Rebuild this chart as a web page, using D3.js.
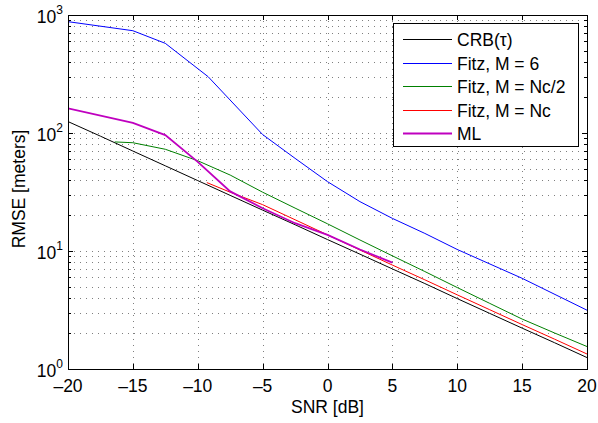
<!DOCTYPE html>
<html>
<head>
<meta charset="utf-8">
<script src="https://cdn.jsdelivr.net/npm/d3@7"></script>
<style>
  body { margin: 0; background: #fff; }
  text { font-family: "Liberation Sans", Arial, sans-serif; fill: #000; }
</style>
</head>
<body>
<script>
// series data (SNR in dB, RMSE in meters)
const crbSnr = [-20, -17.5, -15, -12.5, -10, -7.5, -5, -2.5, 0, 2.5, 5, 7.5, 10, 12.5, 15, 17.5, 20];
const crbVal = [125, 94, 70.3, 52.7, 39.5, 29.6, 22.2, 16.7, 12.5, 9.4, 7.05, 5.3, 3.95, 2.96, 2.22, 1.67, 1.25];

const fitz6Snr = [-20, -15, -12.5, -9.2, -5, -2.5, 0, 2.5, 5, 7.5, 10, 15, 20];
const fitz6Val = [878, 736, 575, 300, 97, 61, 38.7, 26.2, 18.9, 14.1, 10.3, 5.87, 3.15];

const fitzHalfSnr = [-16.4, -15, -12.5, -10, -7.5, -5, -2.5, 0, 2.5, 5, 7.5, 10, 12.5, 15, 17.5, 20];
const fitzHalfVal = [84, 82.7, 72.8, 58.2, 44, 31.5, 23.1, 17.0, 12.4, 9.1, 6.7, 4.9, 3.6, 2.65, 2.02, 1.55];

const fitzNcSnr = [-9.3, -7.5, -5, -2.5, 0, 2.5, 5, 7.5, 10, 12.5, 15, 17.5, 20];
const fitzNcVal = [38, 31.5, 24.7, 18.4, 13.7, 10.2, 7.6, 5.7, 4.25, 3.18, 2.38, 1.79, 1.34];

const mlSnr = [-20, -15, -12.5, -10, -7.5, -5, -2.5, 0, 2.5, 5];
const mlVal = [162, 122, 96, 57, 32, 23, 17.2, 13.7, 10.3, 7.96];

const xTicks = [-20, -15, -10, -5, 0, 5, 10, 15, 20];
const yExps = [0, 1, 2, 3];
const legendNames = ["CRB(\u03c4)", "Fitz, M = 6", "Fitz, M = Nc/2", "Fitz, M = Nc", "ML"];

const W = 598, H = 423;
const m = { left: 68, top: 15, right: 11, bottom: 54 };
const pw = W - m.left - m.right, ph = H - m.top - m.bottom;

const svg = d3.select("body").append("svg")
  .attr("width", W).attr("height", H);

const x = d3.scaleLinear().domain([-20, 20]).range([0, pw]);
const y = d3.scaleLog().domain([1, 1000]).range([ph, 0]);

const g = svg.append("g").attr("transform", `translate(${m.left},${m.top})`);

// grid
const minorY = [];
for (let e = 0; e < 3; e++) for (let k = 1; k < 10; k++) minorY.push(k * Math.pow(10, e));
minorY.push(1000);

const grid = g.append("g").attr("stroke", "#000").attr("stroke-opacity", 0.5)
  .attr("stroke-dasharray", "1,5").attr("stroke-width", 1);
grid.selectAll(".hy").data(minorY.filter(v => v > 1 && v < 1000)).enter().append("line")
  .attr("x1", 0).attr("x2", pw)
  .attr("y1", d => Math.round(y(d)) + 0.5).attr("y2", d => Math.round(y(d)) + 0.5);
grid.selectAll(".vx").data(xTicks.slice(1, -1)).enter().append("line")
  .attr("y1", 0).attr("y2", ph)
  .attr("x1", d => Math.round(x(d)) + 0.5).attr("x2", d => Math.round(x(d)) + 0.5);

// ticks (inside, on all four sides)
const tk = g.append("g").attr("stroke", "#000").attr("stroke-width", 1);
xTicks.forEach(t => {
  const xx = Math.round(x(t)) + 0.5;
  tk.append("line").attr("x1", xx).attr("x2", xx).attr("y1", ph).attr("y2", ph - 5);
  tk.append("line").attr("x1", xx).attr("x2", xx).attr("y1", 0).attr("y2", 5);
});
minorY.forEach(v => {
  const yy = Math.round(y(v)) + 0.5;
  const len = yExps.some(e => Math.pow(10, e) === v) ? 5 : 3;
  tk.append("line").attr("x1", 0).attr("x2", len).attr("y1", yy).attr("y2", yy);
  tk.append("line").attr("x1", pw).attr("x2", pw - len).attr("y1", yy).attr("y2", yy);
});

// lines
g.append("clipPath").attr("id", "clip").append("rect")
  .attr("width", pw).attr("height", ph);
const lineGen = d3.line().x(d => x(d[0])).y(d => y(d[1]));
const series = [
  { s: crbSnr, v: crbVal, c: "#000000", w: 1 },
  { s: fitz6Snr, v: fitz6Val, c: "#0000ff", w: 1 },
  { s: fitzHalfSnr, v: fitzHalfVal, c: "#008000", w: 1 },
  { s: fitzNcSnr, v: fitzNcVal, c: "#ff0000", w: 1 },
  { s: mlSnr, v: mlVal, c: "#bf00bf", w: 1.8 }
];
const lg = g.append("g").attr("clip-path", "url(#clip)");
series.forEach(se => {
  lg.append("path")
    .datum(se.s.map((s, i) => [s, se.v[i]]))
    .attr("fill", "none").attr("stroke", se.c).attr("stroke-width", se.w)
    .attr("d", lineGen);
});

// axes box
g.append("rect").attr("x", 0.5).attr("y", 0.5).attr("width", pw).attr("height", ph)
  .attr("fill", "none").attr("stroke", "#000").attr("stroke-width", 1);

// tick labels
g.selectAll(".xl").data(xTicks).enter().append("text")
  .attr("x", d => x(d)).attr("y", ph + 23)
  .attr("text-anchor", "middle").attr("font-size", 17.5)
  .text(d => d < 0 ? "\u2013" + Math.abs(d) : d);

yExps.forEach(e => {
  const t = g.append("text").attr("x", -5).attr("y", y(Math.pow(10, e)) + 8)
    .attr("text-anchor", "end").attr("font-size", 17.5);
  t.append("tspan").text("10");
  t.append("tspan").attr("font-size", 12).attr("dy", -9).text(e);
});

// axis labels
svg.append("text").attr("x", m.left + pw / 2).attr("y", 413)
  .attr("text-anchor", "middle").attr("font-size", 17.5).text("SNR [dB]");
svg.append("text").attr("transform", `translate(25,${m.top + ph / 2 - 3}) rotate(-90)`)
  .attr("text-anchor", "middle").attr("font-size", 17.5).text("RMSE [meters]");

// legend
const leg = svg.append("g");
leg.append("rect").attr("x", 393.5).attr("y", 23.5).attr("width", 185).attr("height", 123)
  .attr("fill", "#fff").attr("stroke", "#000");
legendNames.forEach((n, i) => {
  const yy = Math.round(39 + i * 23.5) + 0.5;
  leg.append("line").attr("x1", 403).attr("x2", 452).attr("y1", yy).attr("y2", yy)
    .attr("stroke", series[i].c).attr("stroke-width", series[i].w);
  leg.append("text").attr("x", 457).attr("y", yy + 6.5).attr("font-size", 17.5).text(n);
});
</script>
</body>
</html>
